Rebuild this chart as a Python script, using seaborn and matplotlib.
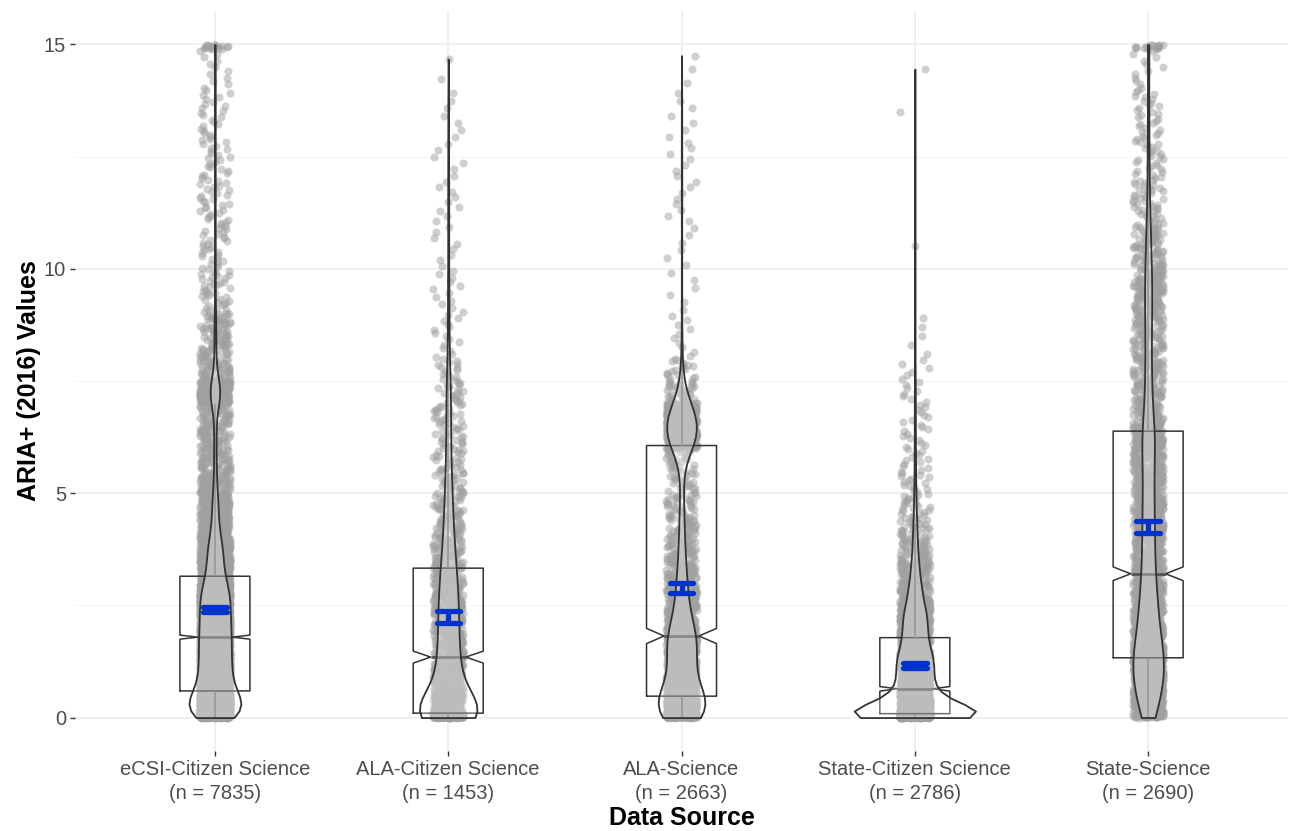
import numpy as np
import pandas as pd
import matplotlib
matplotlib.use('Agg')
import matplotlib.pyplot as plt
import seaborn as sns

# データソース (x 軸)
sources = ['eCSI-Citizen Science', 'ALA-Citizen Science', 'ALA-Science',
           'State-Citizen Science', 'State-Science']

# ARIA+ 値のビン境界 (図から読んだ件数をビンごとに保持)
bin_edges = [0, 0.1, 0.5, 1, 1.5, 2, 2.5, 3, 3.5, 4, 4.5, 5, 5.5, 6, 6.5, 7,
             7.5, 8, 9, 10, 11, 12, 13, 14, 14.9, 15]

counts_ecsi_cs = [600, 1200, 850, 800, 800, 750, 750, 420, 400, 180, 160, 80, 60,
                  60, 60, 340, 60, 90, 40, 30, 30, 25, 20, 12, 18]
counts_ala_cs = [370, 160, 120, 110, 95, 95, 90, 75, 60, 45, 40, 30, 25,
                 22, 22, 20, 15, 15, 12, 8, 9, 7, 6, 2, 0]
counts_ala_s = [255, 436, 230, 220, 300, 140, 105, 80, 55, 45, 35, 25, 30,
                330, 270, 40, 20, 10, 6, 6, 8, 8, 6, 3, 0]
counts_state_cs = [800, 500, 330, 330, 230, 210, 131, 80, 50, 35, 22, 15, 12,
                   10, 9, 8, 6, 5, 0, 1, 0, 0, 1, 1, 0]
counts_state_s = [60, 150, 250, 320, 200, 170, 150, 110, 110, 105, 100, 95, 90,
                  140, 70, 60, 55, 105, 130, 90, 45, 30, 25, 12, 18]

counts_all = [counts_ecsi_cs, counts_ala_cs, counts_ala_s, counts_state_cs, counts_state_s]


def expand_bins(counts):
    # ビン内に件数ぶんの値を均等に並べる
    values = []
    for lo, hi, c in zip(bin_edges[:-1], bin_edges[1:], counts):
        step = (hi - lo) / c if c > 0 else 0
        values += [lo + (i + 0.5) * step for i in range(c)]
    return values


rows = []
for name, counts in zip(sources, counts_all):
    for v in expand_bins(counts):
        rows.append((name, v))
df = pd.DataFrame(rows, columns=['source', 'aria'])

tick_labels = ['{0}\n(n = {1})'.format(s, sum(c)) for s, c in zip(sources, counts_all)]

sns.set_theme(style='white')
plt.rcParams['font.family'] = ['Liberation Sans', 'DejaVu Sans']

fig, ax = plt.subplots(figsize=(12.92, 8.31), dpi=100)
fig.subplots_adjust(left=0.058, right=0.997, top=0.987, bottom=0.096)

# 点 (ジッター)
np.random.seed(3)
sns.stripplot(data=df, x='source', y='aria', order=sources, color='#a0a0a0',
              alpha=0.5, size=5.8, jitter=0.065, linewidth=0, ax=ax, zorder=1)

# 箱ひげ (ノッチ付き)
n_lines = len(ax.lines)
sns.boxplot(data=df, x='source', y='aria', order=sources, notch=True, width=0.3,
            fill=False, color='#333333', linewidth=1.1, showfliers=False, showcaps=False,
            whiskerprops={'color': '#666666'}, medianprops={'color': '#555555', 'linewidth': 2},
            ax=ax)
for ln in ax.lines[n_lines:]:
    ln.set_zorder(2)

# バイオリン (白の半透明)
n_coll = len(ax.collections)
sns.violinplot(data=df, x='source', y='aria', order=sources, cut=0, density_norm='area',
               width=0.52, bw_adjust=0.7, inner=None, color='white', linecolor='#333333',
               linewidth=1.3, ax=ax)
for c in ax.collections[n_coll:]:
    c.set_facecolor((1, 1, 1, 0.3))
    c.set_zorder(3)

# 平均 ± 95% 区間
n_lines = len(ax.lines)
sns.pointplot(data=df, x='source', y='aria', order=sources, estimator='mean',
              errorbar=('se', 1.96), capsize=0.1, linestyle='none', marker='none',
              color='#0033cc', err_kws={'linewidth': 3.8}, ax=ax)
for ln in ax.lines[n_lines:]:
    ln.set_zorder(4)

## 軸の調整
ax.set_xlim(-0.6, 4.6)
ax.set_ylim(-0.75, 15.75)
ax.set_yticks([0, 5, 10, 15])
ax.set_yticks([2.5, 7.5, 12.5], minor=True)
ax.set_xticks(range(len(sources)))
ax.set_xticklabels(tick_labels)
for lab in ax.get_xticklabels():
    lab.set_linespacing(1.3)
ax.grid(which='major', color='#ebebeb', linewidth=1.1)
ax.grid(which='minor', axis='y', color='#f2f2f2', linewidth=0.7)
ax.set_axisbelow(True)
ax.tick_params(axis='both', which='major', length=3.5, width=1, color='#333333',
               labelcolor='#4d4d4d', labelsize=14.5, pad=3, bottom=True, left=True)
ax.tick_params(which='minor', length=0)
sns.despine(ax=ax, left=True, bottom=True)
ax.set_xlabel('Data Source', fontsize=18, fontweight='bold', color='black', labelpad=2)
ax.set_ylabel('ARIA+ (2016) Values', fontsize=18, fontweight='bold', color='black', labelpad=2)

plt.savefig('out.png', dpi=100)
